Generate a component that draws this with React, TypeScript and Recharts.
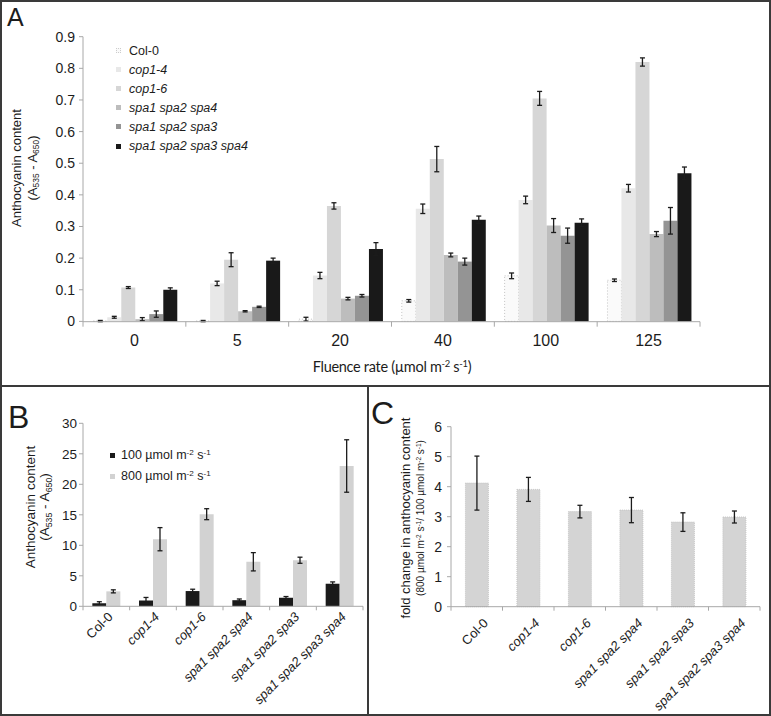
import React from "react";
import { BarChart, Bar, XAxis, YAxis, ErrorBar } from "recharts";

const fluenceRates = ["0", "5", "20", "40", "100", "125"];
const genotypes = ["Col-0", "cop1-4", "cop1-6", "spa1 spa2 spa4", "spa1 spa2 spa3", "spa1 spa2 spa3 spa4"];

// panel A: anthocyanin (A535 - A650) by fluence rate, one array per genotype
const col0A = [0.001, 0.001, 0.007, 0.065, 0.144, 0.13];
const cop14A = [0.013, 0.12, 0.145, 0.356, 0.384, 0.421];
const cop16A = [0.107, 0.195, 0.365, 0.513, 0.705, 0.82];
const spa124A = [0.007, 0.032, 0.072, 0.21, 0.303, 0.276];
const spa123A = [0.023, 0.046, 0.081, 0.189, 0.271, 0.318];
const spa1234A = [0.1, 0.192, 0.229, 0.321, 0.312, 0.468];

const col0AErr = [0.002, 0.002, 0.006, 0.004, 0.009, 0.004];
const cop14AErr = [0.003, 0.007, 0.01, 0.015, 0.012, 0.012];
const cop16AErr = [0.003, 0.022, 0.01, 0.04, 0.022, 0.013];
const spa124AErr = [0.005, 0.002, 0.004, 0.006, 0.022, 0.008];
const spa123AErr = [0.01, 0.002, 0.004, 0.011, 0.024, 0.042];
const spa1234AErr = [0.006, 0.008, 0.02, 0.012, 0.012, 0.02];

// panel B: 100 vs 800 µmol m-2 s-1
const doses = ["100", "800"];
const dose100 = [0.5, 0.95, 2.5, 1.0, 1.4, 3.7];
const dose100Err = [0.25, 0.5, 0.3, 0.2, 0.2, 0.3];
const dose800 = [2.45, 11.0, 15.1, 7.3, 7.55, 23.0];
const dose800Err = [0.25, 1.9, 0.9, 1.5, 0.5, 4.3];

// panel C: fold change 800/100
const foldChange = [4.12, 3.91, 3.17, 3.22, 2.82, 2.99];
const foldChangeErr = [0.9, 0.4, 0.21, 0.42, 0.31, 0.2];

const ticksA = [0, 0.1, 0.2, 0.3, 0.4, 0.5, 0.6, 0.7, 0.8, 0.9];
const ticksB = [0, 5, 10, 15, 20, 25, 30];
const ticksC = [0, 1, 2, 3, 4, 5, 6];

const valuesA = [col0A, cop14A, cop16A, spa124A, spa123A, spa1234A];
const errorsA = [col0AErr, cop14AErr, cop16AErr, spa124AErr, spa123AErr, spa1234AErr];

const dataA = fluenceRates.map((rate, i) => {
  const row: Record<string, any> = { rate };
  valuesA.forEach((vals, k) => {
    row["g" + k] = vals[i];
    row["e" + k] = errorsA[k][i];
  });
  return row;
});

const dataB = genotypes.map((g, i) => ({
  g,
  low: dose100[i],
  lowErr: dose100Err[i],
  high: dose800[i],
  highErr: dose800Err[i],
}));

const dataC = genotypes.map((g, i) => ({ g, fold: foldChange[i], err: foldChangeErr[i] }));

const INK = "#1c1c1c";
const AXIS = "#a8a8a8";
const FRAME = "#3a3a3a";
const shadesA = ["#fafafa", "#e8e8e8", "#d6d6d6", "#bdbdbd", "#949494", "#191919"];
const shadesB = ["#1a1a1a", "#d2d2d2"];
// mutant names are set in italics, the wild type is not
const italicNames = [false, true, true, true, true, true];

// category tick with Excel-style marks on the band edges
function FlatTick(props: any) {
  const { x, y, payload, index, visibleTicksCount, gap } = props;
  const off = payload.offset ?? 0;
  const ay = y - gap;
  const last = index === visibleTicksCount - 1;
  return (
    <g>
      <line x1={x - off} x2={x - off} y1={ay} y2={ay + 5} stroke={AXIS} />
      {last && <line x1={x + off} x2={x + off} y1={ay} y2={ay + 5} stroke={AXIS} />}
      <text x={x} y={y} dy="0.71em" textAnchor="middle" fontSize={16} fill={INK}>
        {payload.value}
      </text>
    </g>
  );
}

function SlantTick(props: any) {
  const { x, y, payload, index, visibleTicksCount, gap, size, shift } = props;
  const off = payload.offset ?? 0;
  const ay = y - gap;
  const last = index === visibleTicksCount - 1;
  const italic = italicNames[genotypes.indexOf(payload.value)];
  return (
    <g>
      <line x1={x - off} x2={x - off} y1={ay} y2={ay + 4} stroke={AXIS} />
      {last && <line x1={x + off} x2={x + off} y1={ay} y2={ay + 4} stroke={AXIS} />}
      <g transform={`translate(${x + shift},${y})`}>
        <text
          x={0}
          y={0}
          dy="0.35em"
          textAnchor="end"
          transform="rotate(-45)"
          fontSize={size}
          fontStyle={italic ? "italic" : "normal"}
          fill={INK}
        >
          {payload.value}
        </text>
      </g>
    </g>
  );
}

function VLabel({ cx, cy, size, children }: any) {
  return (
    <div
      style={{
        position: "absolute",
        left: cx,
        top: cy,
        transform: "translate(-50%, -50%) rotate(-90deg)",
        whiteSpace: "nowrap",
        fontSize: size,
        color: INK,
        lineHeight: 1,
      }}
    >
      {children}
    </div>
  );
}

const sub = { fontSize: "0.65em", verticalAlign: "-0.3em" } as const;
const sup = { fontSize: "0.65em", verticalAlign: "0.5em" } as const;

function Unit() {
  return (
    <>
      µmol m<span style={sup}>-2</span> s<span style={sup}>-1</span>
    </>
  );
}

export default function App() {
  return (
    <div
      style={{
        position: "absolute",
        left: 0,
        top: 0,
        width: 771,
        height: 716,
        background: "#fff",
        overflow: "hidden",
        fontFamily: '"Liberation Sans", Arial, sans-serif',
        color: INK,
      }}
    >
      {/* panel A */}
      <div style={{ position: "absolute", left: 0, top: 0 }}>
        <BarChart
          width={771}
          height={386}
          data={dataA}
          margin={{ top: 36.7, right: 71, bottom: 34.3, left: 0 }}
          barCategoryGap="10%"
          barGap={0}
        >
          <XAxis
            dataKey="rate"
            height={30}
            interval={0}
            tickSize={0}
            tickMargin={12.5}
            tickLine={false}
            axisLine={{ stroke: AXIS }}
            tick={(p: any) => <FlatTick {...p} gap={12.5} />}
          />
          <YAxis
            width={83}
            domain={[0, 0.9]}
            ticks={ticksA}
            tickSize={4}
            tickMargin={4}
            axisLine={{ stroke: AXIS }}
            tickLine={{ stroke: AXIS }}
            tick={{ fontSize: 14, fill: INK }}
          />
          {valuesA.map((_, k) => (
            <Bar
              key={k}
              dataKey={"g" + k}
              fill={shadesA[k]}
              stroke={k === 0 ? "#c4c4c4" : "none"}
              strokeDasharray={k === 0 ? "1 2" : undefined}
              isAnimationActive={false}
            >
              <ErrorBar dataKey={"e" + k} width={2.5} strokeWidth={1.3} stroke={INK} isAnimationActive={false} />
            </Bar>
          ))}
        </BarChart>
      </div>
      <div style={{ position: "absolute", left: 7, top: 3, fontSize: 25 }}>A</div>
      <VLabel cx={16} cy={168} size={13}>Anthocyanin content</VLabel>
      <VLabel cx={33} cy={168} size={13}>
        (A<span style={sub}>535</span> - A<span style={sub}>650</span>)
      </VLabel>
      <div style={{ position: "absolute", left: 116, top: 41 }}>
        {genotypes.map((g, k) => (
          <div key={g} style={{ display: "flex", alignItems: "center", height: 19.1, fontSize: 12.5 }}>
            <span
              style={{
                width: 5,
                height: 5,
                background: shadesA[k],
                border: k === 0 ? "1px dotted #ccc" : "none",
                marginRight: 8,
                boxSizing: "border-box",
              }}
            />
            <span style={{ fontStyle: italicNames[k] ? "italic" : "normal" }}>{g}</span>
          </div>
        ))}
      </div>
      <div
        style={{
          position: "absolute",
          left: 392,
          top: 366,
          transform: "translate(-50%, -50%)",
          whiteSpace: "nowrap",
          fontFamily: "Lato, sans-serif",
          fontSize: 14.5,
          letterSpacing: -0.3,
        }}
      >
        Fluence rate (<Unit />)
      </div>

      {/* panel B */}
      <div style={{ position: "absolute", left: 0, top: 386 }}>
        <BarChart
          width={368}
          height={330}
          data={dataB}
          margin={{ top: 37.3, right: 5, bottom: 59.7, left: 0 }}
          barCategoryGap="20%"
          barGap={0}
        >
          <XAxis
            dataKey="g"
            height={50}
            interval={0}
            tickSize={0}
            tickMargin={8}
            tickLine={false}
            axisLine={{ stroke: AXIS }}
            tick={(p: any) => <SlantTick {...p} gap={8} size={13} shift={4} />}
          />
          <YAxis
            width={83}
            domain={[0, 30]}
            ticks={ticksB}
            tickSize={4}
            tickMargin={2}
            axisLine={{ stroke: AXIS }}
            tickLine={{ stroke: AXIS }}
            tick={{ fontSize: 13.5, fill: INK }}
          />
          <Bar dataKey="low" fill={shadesB[0]} isAnimationActive={false}>
            <ErrorBar dataKey="lowErr" width={2.5} strokeWidth={1.3} stroke={INK} isAnimationActive={false} />
          </Bar>
          <Bar dataKey="high" fill={shadesB[1]} isAnimationActive={false}>
            <ErrorBar dataKey="highErr" width={2.5} strokeWidth={1.3} stroke={INK} isAnimationActive={false} />
          </Bar>
        </BarChart>
      </div>
      <div style={{ position: "absolute", left: 8, top: 399, fontSize: 32 }}>B</div>
      <VLabel cx={31} cy={507} size={13.5}>Anthocyanin content</VLabel>
      <VLabel cx={46} cy={507} size={13.5}>
        (A<span style={sub}>535</span> - A<span style={sub}>650</span>)
      </VLabel>
      <div style={{ position: "absolute", left: 110, top: 445 }}>
        {doses.map((d, k) => (
          <div key={d} style={{ display: "flex", alignItems: "center", height: 21, fontSize: 12.5 }}>
            <span style={{ width: 5, height: 5, background: shadesB[k], marginRight: 6 }} />
            <span>
              {d} <Unit />
            </span>
          </div>
        ))}
      </div>

      {/* panel C */}
      <div style={{ position: "absolute", left: 368, top: 386 }}>
        <BarChart
          width={403}
          height={330}
          data={dataC}
          margin={{ top: 40.7, right: 11, bottom: 59.3, left: 0 }}
          barCategoryGap="28%"
        >
          <XAxis
            dataKey="g"
            height={50}
            interval={0}
            tickSize={0}
            tickMargin={14}
            tickLine={false}
            axisLine={{ stroke: AXIS }}
            tick={(p: any) => <SlantTick {...p} gap={14} size={13} shift={9} />}
          />
          <YAxis
            width={83}
            domain={[0, 6]}
            ticks={ticksC}
            tickSize={4}
            tickMargin={5}
            axisLine={{ stroke: AXIS }}
            tickLine={{ stroke: AXIS }}
            tick={{ fontSize: 14, fill: INK }}
          />
          <Bar dataKey="fold" fill="#d4d4d4" stroke="#c6c6c6" strokeDasharray="1 1" isAnimationActive={false}>
            <ErrorBar dataKey="err" width={2.5} strokeWidth={1.3} stroke={INK} isAnimationActive={false} />
          </Bar>
        </BarChart>
      </div>
      <div style={{ position: "absolute", left: 371, top: 395, fontSize: 32 }}>C</div>
      <VLabel cx={405} cy={518} size={13}>fold change in anthocyanin content</VLabel>
      <VLabel cx={421} cy={518} size={10}>
        (800 <Unit />/ 100 <Unit />)
      </VLabel>

      {/* frame and dividers */}
      <div style={{ position: "absolute", left: 0, top: 385, width: 771, height: 2, background: FRAME }} />
      <div style={{ position: "absolute", left: 367, top: 386, width: 2, height: 330, background: FRAME }} />
      <div
        style={{
          position: "absolute",
          left: 0,
          top: 0,
          width: 771,
          height: 716,
          boxSizing: "border-box",
          border: `2px solid ${FRAME}`,
          pointerEvents: "none",
        }}
      />
    </div>
  );
}
